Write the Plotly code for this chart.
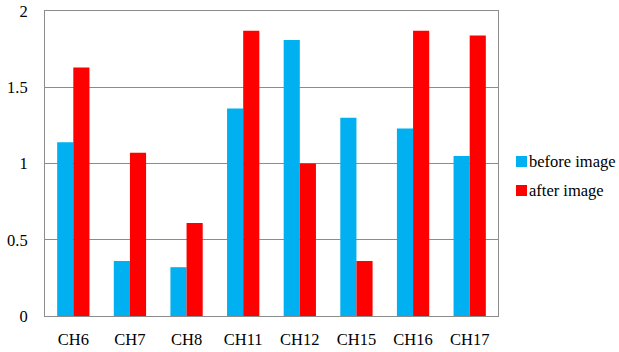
import plotly.graph_objects as go

# Channel readings before and after the image
channels = ["CH6", "CH7", "CH8", "CH11", "CH12", "CH15", "CH16", "CH17"]
before_image = [1.14, 0.36, 0.32, 1.36, 1.81, 1.30, 1.23, 1.05]
after_image = [1.63, 1.07, 0.61, 1.87, 1.00, 0.36, 1.87, 1.84]
y_ticks = [0, 0.5, 1, 1.5, 2]
y_tick_labels = ["0", "0.5", "1", "1.5", "2"]
series_names = ["before image", "after image"]
series_colors = ["#00B0F0", "#FF0000"]

FONT = "Times New Roman, Liberation Serif, DejaVu Serif, serif"
GRID = "#8c8c8c"

W, H = 619, 352
M_L, M_R, M_T, M_B = 45, 121, 11, 36
plot_w = W - M_L - M_R
plot_h = H - M_T - M_B

fig = go.Figure()
for name, vals, color in zip(series_names, [before_image, after_image], series_colors):
    fig.add_trace(go.Bar(
        x=channels, y=vals, name=name,
        marker=dict(color=color, line=dict(width=0)),
    ))


def px_to_paper_x(px):
    return (px - M_L) / plot_w


def px_to_paper_y(py):
    return (H - M_B - py) / plot_h


# Legend to the right of the plot: small square key followed by its label
legend_rows_y = [161.5, 190.5]
for name, color, cy in zip(series_names, series_colors, legend_rows_y):
    fig.add_shape(
        type="rect", xref="paper", yref="paper",
        x0=px_to_paper_x(516), x1=px_to_paper_x(527),
        y0=px_to_paper_y(cy + 5.5), y1=px_to_paper_y(cy - 5.5),
        fillcolor=color, line=dict(width=0),
    )
    fig.add_annotation(
        xref="paper", yref="paper",
        x=px_to_paper_x(527), y=px_to_paper_y(cy),
        xanchor="left", yanchor="middle", showarrow=False,
        text=name, font=dict(family=FONT, size=16.5, color="#000000"),
    )

fig.update_layout(
    width=W, height=H,
    margin=dict(l=M_L, r=M_R, t=M_T, b=M_B, autoexpand=False),
    paper_bgcolor="white", plot_bgcolor="white",
    barmode="group", bargap=0.43, bargroupgap=0,
    showlegend=False,
    font=dict(family=FONT, size=16.5, color="#000000"),
    xaxis=dict(
        automargin=False,
        showline=True, mirror=True, linecolor=GRID, linewidth=1,
        showgrid=False, ticks="", ticklabelstandoff=8,
        tickfont=dict(family=FONT, size=16.5),
    ),
    yaxis=dict(
        automargin=False,
        range=[0, 2], tickvals=y_ticks, ticktext=y_tick_labels,
        showline=True, mirror=True, linecolor=GRID, linewidth=1,
        showgrid=True, gridcolor=GRID, gridwidth=1,
        zeroline=False, ticks="", ticklabelstandoff=13,
        tickfont=dict(family=FONT, size=16.5),
    ),
)

fig.write_html("out.html")
